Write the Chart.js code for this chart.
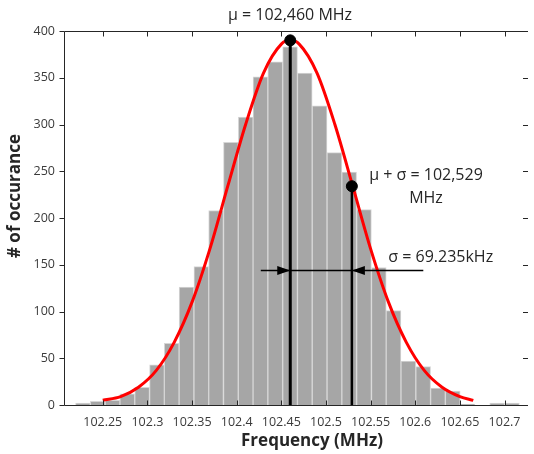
<!DOCTYPE html>
<html><head><meta charset="utf-8">
<script src="https://cdn.jsdelivr.net/npm/chart.js@4.4.1/dist/chart.umd.min.js"></script>
<style>html,body{margin:0;padding:0;background:#fff}#wrap{width:534px;height:454px;position:relative}</style>
</head><body><div id="wrap"><canvas id="c"></canvas></div>
<script>
// ---- data ----
const binCenters = [102.2278,102.2444,102.2610,102.2775,102.2941,102.3107,102.3272,102.3438,102.3604,102.3769,
  102.3935,102.4101,102.4266,102.4432,102.4598,102.4763,102.4929,102.5095,102.5260,102.5426,
  102.5592,102.5757,102.5923,102.6089,102.6254,102.6420,102.6586,102.6751,102.6917,102.7083];
const counts = [2,4,5,12,19,43,66,126,148,208,
  281,308,351,367,383,355,320,270,249,209,
  147,101,47,41,18,15,1,0,2,2];
const fitFreq = [102.25,102.27,102.29,102.31,102.33,102.35,102.37,102.39,102.41,102.43,102.45,102.46,
  102.47,102.49,102.51,102.53,102.55,102.57,102.59,102.61,102.63,102.65,102.665];
const fitCount = [5,9,19,37,67,110,167,234,300,355,386,390,386,355,300,234,167,110,67,37,19,9,5];
const xTickValues = [102.25,102.3,102.35,102.4,102.45,102.5,102.55,102.6,102.65,102.7];
const yTickValues = [0,50,100,150,200,250,300,350,400];
const meanFreq = 102.46, meanCount = 390;
const sigmaFreq = 102.529, sigmaCount = 234;
const arrowFreqs = [102.427, 102.609], arrowCount = 144;
const titleText = 'μ = 102,460 MHz';
const sigmaText = ['μ + σ = 102,529', 'MHz'];
const widthText = 'σ = 69.235kHz';
const xTitle = 'Frequency (MHz)';
const yTitle = '# of occurance';

const FONT = '"Open Sans", sans-serif';
const TXT = '#262626';

const decor = {
  id: 'decor',
  afterDatasetsDraw(chart) {
    const {ctx, scales: {x, y}} = chart;
    ctx.save();
    const ay = Math.round(y.getPixelForValue(arrowCount)) + 0.5;
    ctx.strokeStyle = '#000'; ctx.fillStyle = '#000'; ctx.lineWidth = 1.5;
    ctx.beginPath();
    ctx.moveTo(x.getPixelForValue(arrowFreqs[0]), ay);
    ctx.lineTo(x.getPixelForValue(arrowFreqs[1]), ay);
    ctx.stroke();
    const t1 = x.getPixelForValue(meanFreq), t2 = x.getPixelForValue(sigmaFreq);
    ctx.beginPath(); ctx.moveTo(t1, ay); ctx.lineTo(t1 - 13, ay - 4.5); ctx.lineTo(t1 - 13, ay + 4.5); ctx.closePath(); ctx.fill();
    ctx.beginPath(); ctx.moveTo(t2, ay); ctx.lineTo(t2 + 13, ay - 4.5); ctx.lineTo(t2 + 13, ay + 4.5); ctx.closePath(); ctx.fill();
    ctx.restore();
  },
  afterDraw(chart) {
    const {ctx, chartArea: a, scales: {x, y}} = chart;
    ctx.save();
    ctx.strokeStyle = '#262626'; ctx.lineWidth = 1;
    const L = a.left + 0.5, R = a.right + 0.5, T = a.top + 0.5, B = a.bottom + 0.5;
    ctx.beginPath();
    ctx.moveTo(R, T); ctx.lineTo(L, T); ctx.lineTo(L, B); ctx.lineTo(R, B);
    ctx.stroke();
    ctx.beginPath();
    xTickValues.forEach(v => {
      const px = Math.round(x.getPixelForValue(v)) + 0.5;
      ctx.moveTo(px, B); ctx.lineTo(px, B - 5);
      ctx.moveTo(px, T); ctx.lineTo(px, T + 5);
    });
    yTickValues.forEach(v => {
      const py = Math.round(y.getPixelForValue(v)) + 0.5;
      ctx.moveTo(L, py); ctx.lineTo(L - 5, py);
      ctx.moveTo(R, py); ctx.lineTo(R - 5, py);
    });
    ctx.stroke();
    // texts
    ctx.fillStyle = TXT;
    ctx.textAlign = 'center'; ctx.textBaseline = 'middle';
    ctx.font = '16px ' + FONT;
    ctx.fillText(titleText, 290, 15);
    ctx.fillText(sigmaText[0], x.getPixelForValue(102.612), y.getPixelForValue(245));
    ctx.fillText(sigmaText[1], x.getPixelForValue(102.612), y.getPixelForValue(221));
    ctx.fillText(widthText, x.getPixelForValue(102.6285), y.getPixelForValue(158));
    ctx.font = 'bold 17px ' + FONT;
    ctx.fillText(xTitle, 312, 441);
    ctx.save();
    ctx.translate(15, 196); ctx.rotate(-Math.PI / 2);
    ctx.fillText(yTitle, 0, 0);
    ctx.restore();
    ctx.restore();
  }
};

new Chart(document.getElementById('c'), {
  type: 'bar',
  data: {
    datasets: [
      { type: 'scatter', data: [{x: meanFreq, y: meanCount}, {x: sigmaFreq, y: sigmaCount}],
        pointRadius: 5.5, backgroundColor: '#000', borderColor: '#000', order: 0 },
      { type: 'line', data: [{x: meanFreq, y: 0}, {x: meanFreq, y: meanCount}],
        borderColor: '#000', borderWidth: 3, pointRadius: 0, order: 1 },
      { type: 'line', data: [{x: sigmaFreq, y: 0}, {x: sigmaFreq, y: sigmaCount}],
        borderColor: '#000', borderWidth: 2.5, pointRadius: 0, order: 1 },
      { type: 'line', data: fitFreq.map((f, i) => ({x: f, y: fitCount[i]})),
        borderColor: '#ff0000', borderWidth: 3, pointRadius: 0, cubicInterpolationMode: 'monotone', order: 2 },
      { type: 'bar', data: binCenters.map((f, i) => ({x: f, y: counts[i]})),
        backgroundColor: '#a6a6a6', borderColor: '#d6d6d6', borderWidth: 1,
        barPercentage: 1, categoryPercentage: 1, order: 3 }
    ]
  },
  options: {
    responsive: true, maintainAspectRatio: false, animation: false,
    layout: { padding: { top: 31, left: 0, right: 0, bottom: 0 } },
    plugins: { legend: { display: false }, tooltip: { enabled: false } },
    scales: {
      x: {
        type: 'linear', min: 102.2066, max: 102.7257, offset: false,
        grid: { display: false, drawTicks: false }, border: { display: false },
        afterBuildTicks: s => { s.ticks = xTickValues.map(v => ({value: v})); },
        afterFit: s => { s.height = 49; s.paddingLeft = 0; s.paddingRight = 0; },
        ticks: { padding: 10, color: '#3a3a3a', font: { family: FONT, size: 12.5 },
          maxRotation: 0, autoSkip: false, callback: v => String(Math.round(v * 100) / 100) }
      },
      y: {
        min: 0, max: 400,
        grid: { display: false, drawTicks: false }, border: { display: false },
        afterBuildTicks: s => { s.ticks = yTickValues.map(v => ({value: v})); },
        afterFit: s => { s.width = 64; s.paddingTop = 0; s.paddingBottom = 0; },
        ticks: { padding: 9, color: '#3a3a3a', font: { family: FONT, size: 12.5 } }
      }
    }
  },
  plugins: [decor]
});
</script></body></html>
